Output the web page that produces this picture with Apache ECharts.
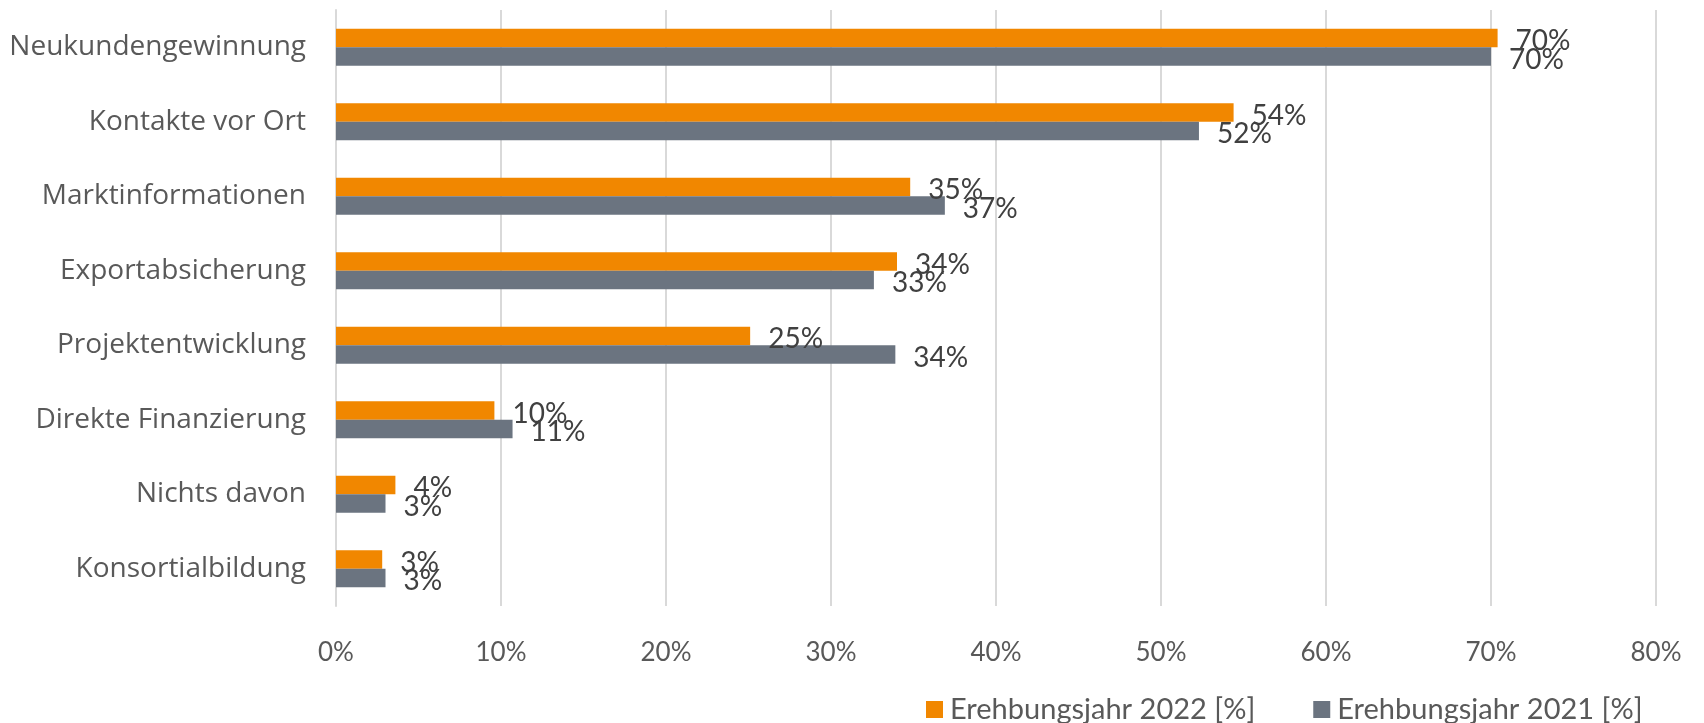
<!DOCTYPE html>
<html>
<head>
<meta charset="utf-8">
<script src="https://cdn.jsdelivr.net/npm/echarts@6/dist/echarts.min.js"></script>
<style>
html,body{margin:0;padding:0;background:#fff;}
#chart{width:1704px;height:723px;}
</style>
</head>
<body>
<div id="chart"></div>
<script>
const categories = ["Neukundengewinnung","Kontakte vor Ort","Marktinformationen","Exportabsicherung","Projektentwicklung","Direkte Finanzierung","Nichts davon","Konsortialbildung"];
const values2022 = [70.4, 54.4, 34.8, 34.0, 25.1, 9.6, 3.6, 2.8];
const values2021 = [70.0, 52.3, 36.9, 32.6, 33.9, 10.7, 3.0, 3.0];
const seriesNames = ["Erehbungsjahr 2022 [%]","Erehbungsjahr 2021 [%]"];
const xTicks = [0, 10, 20, 30, 40, 50, 60, 70, 80];

const chart = echarts.init(document.getElementById('chart'), null, {renderer:'canvas'});
const labelStyle = {
  show: true, position: 'right', distance: 18, offset: [0, 3],
  fontFamily: 'Lato', fontSize: 28, color: '#404040',
  formatter: p => Math.round(p.value) + '%'
};
chart.setOption({
  animation: false,
  grid: {left: 336, right: 48, top: 10, bottom: 117, containLabel: false},
  legend: {
    data: seriesNames, left: 921, top: 690,
    itemWidth: 17, itemHeight: 17, itemGap: 58, icon: 'rect',
    textStyle: {fontFamily: 'Lato', fontSize: 29, color: '#595959', padding: [0,0,0,2]}
  },
  xAxis: {
    type: 'value', min: xTicks[0], max: xTicks[xTicks.length-1], interval: 10,
    axisLine: {show: false}, axisTick: {show: false},
    splitLine: {show: true, lineStyle: {color: '#d9d9d9', width: 2}},
    axisLabel: {fontFamily: 'Lato', fontSize: 26, color: '#595959', margin: 34, formatter: v => v + '%'}
  },
  yAxis: {
    type: 'category', data: categories, inverse: true,
    axisLine: {show: true, lineStyle: {color: '#d9d9d9', width: 2}},
    axisTick: {show: false},
    axisLabel: {fontFamily: 'Open Sans', fontSize: 28, color: '#595959', margin: 30}
  },
  series: [
    {name: seriesNames[0], type: 'bar', data: values2022, barWidth: 18.5, barGap: '0%',
     itemStyle: {color: '#F18700'}, label: labelStyle},
    {name: seriesNames[1], type: 'bar', data: values2021, barWidth: 18.5, barGap: '0%',
     itemStyle: {color: '#6B7480'}, label: labelStyle}
  ]
});
</script>
</body>
</html>
